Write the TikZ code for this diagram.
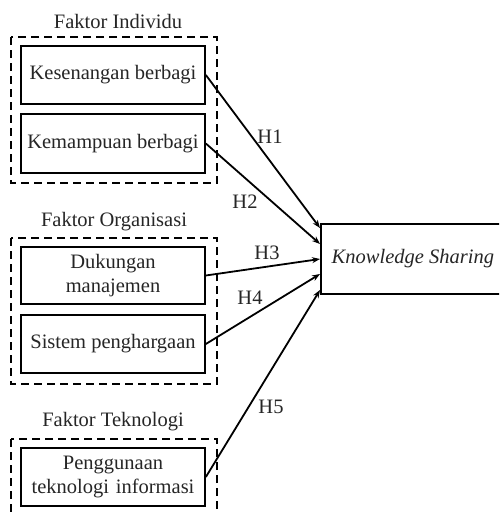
\documentclass[tikz,border=0pt]{standalone}
\usepackage{fontspec}
\setmainfont{Liberation Serif}
\usetikzlibrary{arrows.meta}
\begin{document}
\begin{tikzpicture}[x=1pt,y=-1pt,
  every node/.style={font=\fontsize{20.5}{23.5}\selectfont, text=black!85},
  box/.style={draw, line width=1.7pt, minimum width=184pt, inner sep=0pt, align=center},
  group/.style={draw, line width=1.6pt, dash pattern=on 8pt off 5pt},
  link/.style={line width=1.8pt, -{Stealth[length=8pt,width=6pt]}},
  hlabel/.style={inner sep=0pt}
]
\useasboundingbox (0,0) rectangle (499,514);
\clip (0,0) rectangle (499,514);
\fill[white] (0,0) rectangle (499,514);

% groups
\node (g1lab) at (118,21) {Faktor Individu};
\draw[group] (11,37) rectangle (217,183);
\node (g2lab) at (114,222) {Faktor Organisasi};
\draw[group] (11,238) rectangle (217,384);
\node (g3lab) at (113,422) {Faktor Teknologi};
\draw[group] (11,439) rectangle (217,540);

% factor boxes
\node[box, minimum height=58pt] (kes) at (113,75) {Kesenangan berbagi};
\node[box, minimum height=59pt] (kem) at (113,143.5) {Kemampuan berbagi};
\node[box, minimum height=57pt, text width=184pt] (duk) at (113,275.5) {Dukungan\\manajemen};
\node[box, minimum height=58pt] (sis) at (113,344) {Sistem penghargaan};
\node[box, minimum height=58pt, text width=184pt] (pen) at (113,477) {Penggunaan\\teknologi informasi};

% target
\node[box, minimum width=190pt, minimum height=70pt, anchor=west] (ks) at (320,259) {\hspace*{-6pt}\itshape Knowledge Sharing};

% connectors
\draw[link] (kes.east) -- ([yshift=31pt]ks.west);
\draw[link] (kem.east) -- ([yshift=15pt]ks.west);
\draw[link] (duk.east) -- (ks.west);
\draw[link] (sis.east) -- ([yshift=-15pt]ks.west);
\draw[link] (pen.east) -- ([yshift=-31pt]ks.west);

% labels
\node[hlabel] (h1) at (270,137) {H1};
\node[hlabel] (h2) at (245,202) {H2};
\node[hlabel] (h3) at (267,253) {H3};
\node[hlabel] (h4) at (250,298) {H4};
\node[hlabel] (h5) at (271,407) {H5};
\end{tikzpicture}
\end{document}
